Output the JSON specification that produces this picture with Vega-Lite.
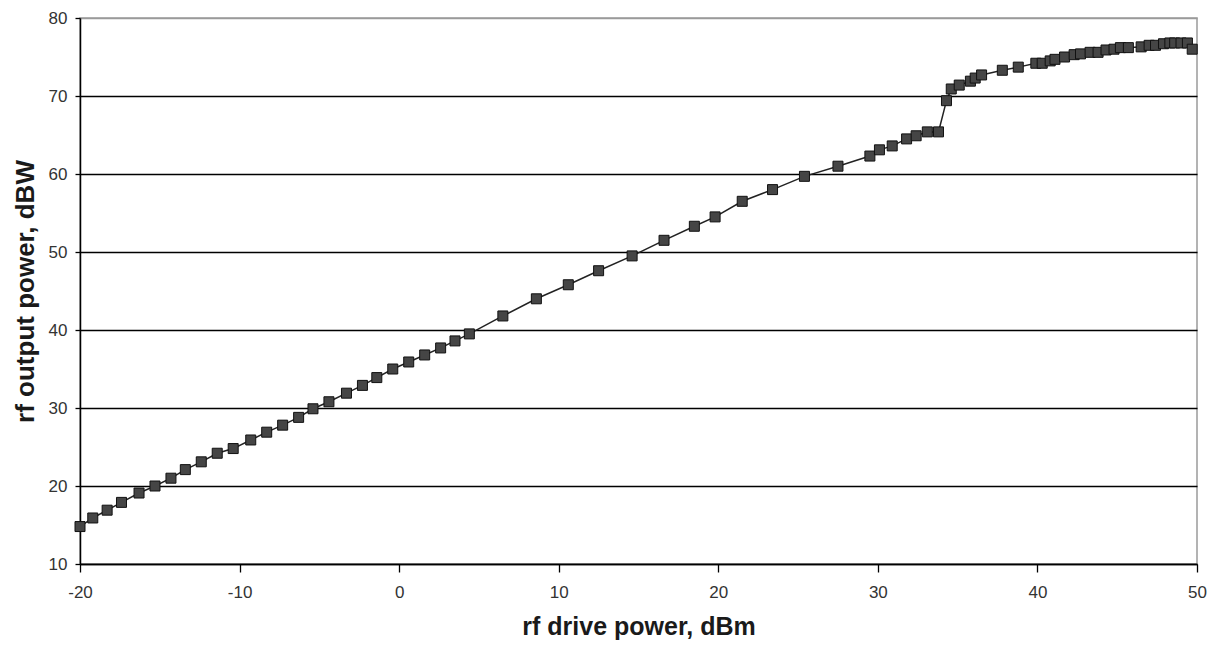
{
  "$schema": "https://vega.github.io/schema/vega-lite/v6.json",
  "width": 1117,
  "height": 546,
  "autosize": {"type": "none"},
  "padding": {"left": 80, "top": 18, "right": 14, "bottom": 86},
  "background": "white",
  "config": {
    "view": {"stroke": "#9a9a9a", "strokeWidth": 1.5},
    "font": "Liberation Sans"
  },
  "data": {
    "values": [
      {"drive": -20.0, "output": 14.8},
      {"drive": -19.2, "output": 15.9},
      {"drive": -18.3, "output": 16.9},
      {"drive": -17.4, "output": 17.9},
      {"drive": -16.3, "output": 19.1},
      {"drive": -15.3, "output": 20.0},
      {"drive": -14.3, "output": 21.0},
      {"drive": -13.4, "output": 22.1},
      {"drive": -12.4, "output": 23.1},
      {"drive": -11.4, "output": 24.2},
      {"drive": -10.4, "output": 24.8},
      {"drive": -9.3, "output": 25.9},
      {"drive": -8.3, "output": 26.9},
      {"drive": -7.3, "output": 27.8},
      {"drive": -6.3, "output": 28.8},
      {"drive": -5.4, "output": 29.9},
      {"drive": -4.4, "output": 30.8},
      {"drive": -3.3, "output": 31.9},
      {"drive": -2.3, "output": 32.9},
      {"drive": -1.4, "output": 33.9},
      {"drive": -0.4, "output": 35.0},
      {"drive": 0.6, "output": 35.9},
      {"drive": 1.6, "output": 36.8},
      {"drive": 2.6, "output": 37.7},
      {"drive": 3.5, "output": 38.6},
      {"drive": 4.4, "output": 39.5},
      {"drive": 6.5, "output": 41.8},
      {"drive": 8.6, "output": 44.0},
      {"drive": 10.6, "output": 45.8},
      {"drive": 12.5, "output": 47.6},
      {"drive": 14.6, "output": 49.5},
      {"drive": 16.6, "output": 51.5},
      {"drive": 18.5, "output": 53.3},
      {"drive": 19.8, "output": 54.5},
      {"drive": 21.5, "output": 56.5},
      {"drive": 23.4, "output": 58.0},
      {"drive": 25.4, "output": 59.7},
      {"drive": 27.5, "output": 61.0},
      {"drive": 29.5, "output": 62.3},
      {"drive": 30.1, "output": 63.1},
      {"drive": 30.9, "output": 63.6},
      {"drive": 31.8, "output": 64.5},
      {"drive": 32.4, "output": 64.9},
      {"drive": 33.1, "output": 65.4},
      {"drive": 33.8, "output": 65.4},
      {"drive": 34.3, "output": 69.4},
      {"drive": 34.6, "output": 70.9},
      {"drive": 35.1, "output": 71.4},
      {"drive": 35.8, "output": 71.9},
      {"drive": 36.1, "output": 72.3},
      {"drive": 36.5, "output": 72.7},
      {"drive": 37.8, "output": 73.3},
      {"drive": 38.8, "output": 73.7},
      {"drive": 39.9, "output": 74.2},
      {"drive": 40.3, "output": 74.2},
      {"drive": 40.8, "output": 74.5},
      {"drive": 41.1, "output": 74.7},
      {"drive": 41.7, "output": 75.0},
      {"drive": 42.3, "output": 75.3},
      {"drive": 42.7, "output": 75.4},
      {"drive": 43.3, "output": 75.6},
      {"drive": 43.8, "output": 75.6},
      {"drive": 44.3, "output": 75.9},
      {"drive": 44.8, "output": 76.0},
      {"drive": 45.2, "output": 76.2},
      {"drive": 45.7, "output": 76.2},
      {"drive": 46.5, "output": 76.3},
      {"drive": 47.0, "output": 76.5},
      {"drive": 47.4, "output": 76.5},
      {"drive": 47.9, "output": 76.7},
      {"drive": 48.3, "output": 76.8},
      {"drive": 48.6, "output": 76.8},
      {"drive": 49.0, "output": 76.8},
      {"drive": 49.4, "output": 76.8},
      {"drive": 49.7, "output": 76.0}
    ]
  },
  "encoding": {
    "x": {
      "field": "drive",
      "type": "quantitative",
      "scale": {"domain": [-20, 50], "nice": false, "zero": false},
      "axis": {
        "title": "rf drive power, dBm",
        "values": [-20, -10, 0, 10, 20, 30, 40, 50],
        "labelExpr": "toString(datum.value)",
        "labelFlush": false,
        "labelOverlap": false,
        "grid": false,
        "domainColor": "#000000",
        "domainWidth": 1.5,
        "tickColor": "#000000",
        "tickSize": 8,
        "tickWidth": 1.3,
        "labelFont": "Liberation Sans",
        "labelFontSize": 17,
        "labelColor": "#333333",
        "labelPadding": 12,
        "titleFont": "Liberation Sans",
        "titleFontSize": 25,
        "titleFontWeight": "bold",
        "titleColor": "#1a1a1a",
        "titlePadding": 14
      }
    },
    "y": {
      "field": "output",
      "type": "quantitative",
      "scale": {"domain": [10, 80], "nice": false, "zero": false},
      "axis": {
        "title": "rf output power, dBW",
        "values": [10, 20, 30, 40, 50, 60, 70, 80],
        "labelFlush": false,
        "labelOverlap": false,
        "grid": true,
        "gridColor": {"condition": {"test": "datum.value >= 80", "value": "#9a9a9a"}, "value": "#000000"},
        "gridWidth": 1.3,
        "domainColor": "#000000",
        "domainWidth": 1.5,
        "tickColor": "#000000",
        "tickSize": 5,
        "tickWidth": 1.3,
        "labelFont": "Liberation Sans",
        "labelFontSize": 17,
        "labelColor": "#333333",
        "labelPadding": 8,
        "titleFont": "Liberation Sans",
        "titleFontSize": 26,
        "titleFontWeight": "bold",
        "titleColor": "#1a1a1a",
        "titlePadding": 10
      }
    }
  },
  "layer": [
    {"mark": {"type": "line", "color": "#222222", "strokeWidth": 1.5}},
    {"mark": {"type": "point", "shape": "square", "filled": true, "size": 100, "color": "#454545", "stroke": "#111111", "strokeWidth": 1, "opacity": 1}}
  ]
}
